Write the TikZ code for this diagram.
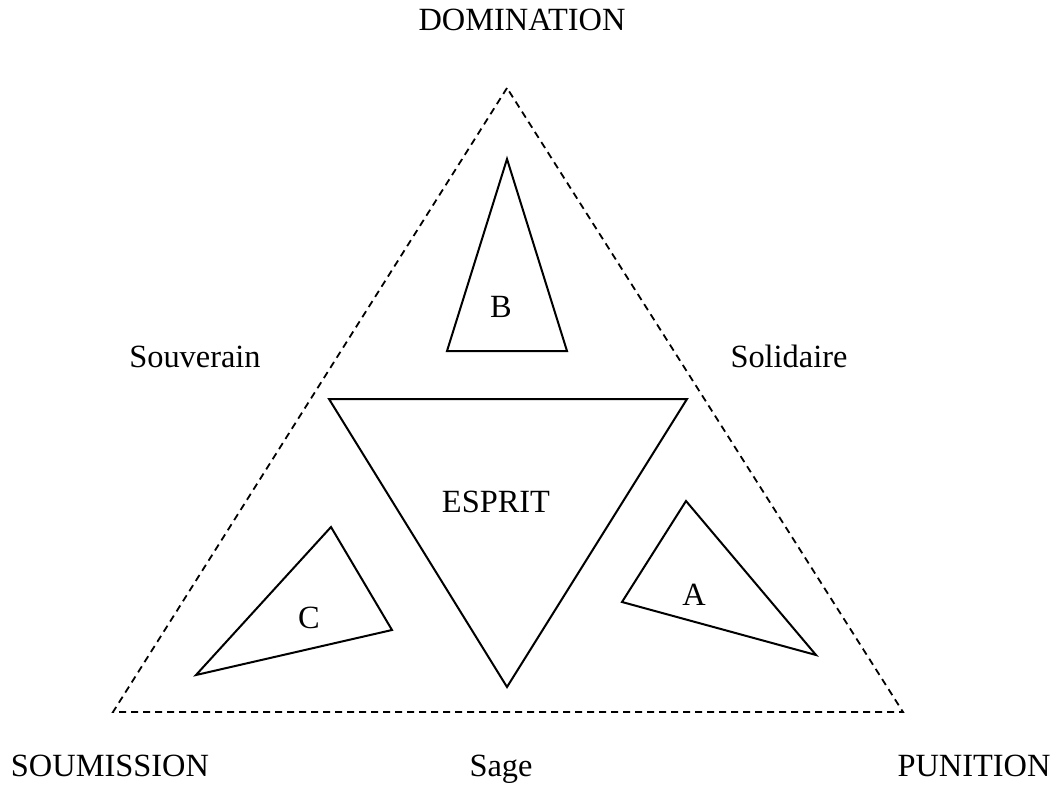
\documentclass[tikz,border=0pt]{standalone}
\usepackage{fontspec}
\setmainfont{Liberation Serif}
\begin{document}
\begin{tikzpicture}[x=0.5pt,y=-0.5pt,
  lbl/.style={anchor=base,inner sep=0pt,font=\fontsize{16.2}{18}\selectfont},
  tri/.style={line width=1pt,line join=miter},
  outer/.style={line width=0.9pt,dash pattern=on 3.5pt off 2.5pt}]
\useasboundingbox (0,0) rectangle (1060,787);
% outer dashed triangle
\coordinate (OT) at (507,88);
\coordinate (OL) at (113,712);
\coordinate (OR) at (903,712);
\draw[outer] (OT) -- (OL) -- (OR) -- cycle;
% B
\coordinate (B1) at (507,159);
\coordinate (B2) at (447,351);
\coordinate (B3) at (567,351);
\draw[tri] (B1) -- (B2) -- (B3) -- cycle;
% ESPRIT
\coordinate (E1) at (329,399);
\coordinate (E2) at (687,399);
\coordinate (E3) at (507,687);
\draw[tri] (E1) -- (E2) -- (E3) -- cycle;
% C
\coordinate (C1) at (331,527);
\coordinate (C2) at (392,630);
\coordinate (C3) at (196,675);
\draw[tri] (C1) -- (C2) -- (C3) -- cycle;
% A
\coordinate (A1) at (686,501);
\coordinate (A2) at (816,655);
\coordinate (A3) at (622,602);
\draw[tri] (A1) -- (A2) -- (A3) -- cycle;
% labels
\node[lbl] (dom) at (522,31) {DOMINATION};
\node[lbl] (sou) at (195,367) {Souverain};
\node[lbl] (sol) at (789,367) {Solidaire};
\node[lbl] (esp) at (496,512) {ESPRIT};
\node[lbl] (lb) at (501,317) {B};
\node[lbl] (lc) at (309,628) {C};
\node[lbl] (la) at (694,605) {A};
\node[lbl] (soum) at (110,776) {SOUMISSION};
\node[lbl] (sage) at (501,776) {Sage};
\node[lbl] (pun) at (974,776) {PUNITION};
\end{tikzpicture}
\end{document}
